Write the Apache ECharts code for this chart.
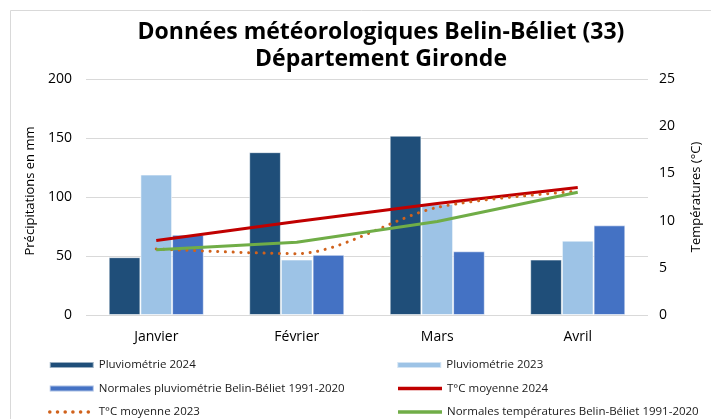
<!DOCTYPE html>
<html><head><meta charset="utf-8">
<script src="https://cdn.jsdelivr.net/npm/echarts@6/dist/echarts.min.js"></script>
<style>html,body{margin:0;padding:0;background:#fff}#c{width:711px;height:419px}</style>
</head><body><div id="c"></div>
<script>
const categories = ['Janvier', 'Février', 'Mars', 'Avril'];
const pluvio2024 = [49, 138, 152, 47];
const pluvio2023 = [119, 47, 94, 63];
const pluvioNormales = [68, 51, 54, 76];
const temp2024 = [7.9, 9.9, 11.8, 13.5];
const temp2023 = [7.0, 6.5, 11.4, 13.1];
const tempNormales = [6.9, 7.7, 9.9, 13.0];
const leftTicks = [0, 200, 50];
const rightTicks = [0, 25, 5];

const FONT = '"Open Sans", sans-serif';
const chart = echarts.init(document.getElementById('c'));
const barStyle = c => ({ color: c, borderColor: 'rgba(255,255,255,0.55)', borderWidth: 1 });
const lineIcon = { itemStyle: { opacity: 0 }, lineStyle: { width: 3.5 } };
chart.setOption({
  animation: false,
  backgroundColor: '#fff',
  title: {
    text: 'Données météorologiques Belin-Béliet (33)\nDépartement Gironde',
    left: 376, textAlign: 'center', top: 14,
    textStyle: { fontFamily: FONT, fontSize: 23, fontWeight: 'bold', color: '#000', lineHeight: 27 }
  },
  graphic: [{ type: 'rect', shape: { x: 10.5, y: 10.5, width: 760, height: 460 }, style: { fill: 'none', stroke: '#d9d9d9', lineWidth: 1 }, z: -1 }],
  grid: { left: 86, right: 55, top: 79, bottom: 104 },
  legend: {
    left: 43, top: 353, width: 711, orient: 'horizontal',
    itemWidth: 44, itemHeight: 6, itemGap: 9.5,
    textStyle: { fontFamily: FONT, fontSize: 11.5, color: '#1a1a1a', width: 288, lineHeight: 14 },
    data: [
      { name: 'Pluviométrie 2024', icon: 'rect' },
      { name: 'Pluviométrie 2023', icon: 'rect' },
      { name: 'Normales pluviométrie Belin-Béliet 1991-2020', icon: 'rect' },
      Object.assign({ name: 'T°C moyenne 2024' }, lineIcon),
      Object.assign({ name: 'T°C moyenne 2023' }, lineIcon),
      Object.assign({ name: 'Normales températures Belin-Béliet 1991-2020' }, lineIcon)]
  },
  xAxis: {
    type: 'category', data: categories,
    axisLine: { show: false }, axisTick: { show: false },
    axisLabel: { fontFamily: FONT, fontSize: 14, color: '#000', margin: 15 }
  },
  yAxis: [{
    type: 'value', min: leftTicks[0], max: leftTicks[1], interval: leftTicks[2],
    name: 'Précipitations en mm', nameLocation: 'middle', nameGap: 48, nameRotate: 90,
    nameTextStyle: { fontFamily: FONT, fontSize: 13, color: '#000', padding: [0, 0, 0, 12] },
    axisLabel: { fontFamily: FONT, fontSize: 14, color: '#000', margin: 14 },
    splitLine: { lineStyle: { color: '#d9d9d9', width: 1 } }
  }, {
    type: 'value', min: rightTicks[0], max: rightTicks[1], interval: rightTicks[2],
    name: 'Températures (°C)', nameLocation: 'middle', nameGap: 42, nameRotate: 90,
    nameTextStyle: { fontFamily: FONT, fontSize: 13, color: '#000' },
    axisLabel: { fontFamily: FONT, fontSize: 14, color: '#000', margin: 11 },
    splitLine: { show: false }
  }],
  series: [
    { name: 'Pluviométrie 2024', type: 'bar', data: pluvio2024, barWidth: 31.7, barGap: '0%', itemStyle: barStyle('#1F4E79') },
    { name: 'Pluviométrie 2023', type: 'bar', data: pluvio2023, barWidth: 31.7, barGap: '0%', itemStyle: barStyle('#9DC3E6') },
    { name: 'Normales pluviométrie Belin-Béliet 1991-2020', type: 'bar', data: pluvioNormales, barWidth: 31.7, barGap: '0%', itemStyle: barStyle('#4472C4') },
    { name: 'T°C moyenne 2024', type: 'line', yAxisIndex: 1, data: temp2024, symbol: 'none',
      lineStyle: { color: '#C00000', width: 3 }, itemStyle: { color: '#C00000' } },
    { name: 'T°C moyenne 2023', type: 'line', yAxisIndex: 1, data: temp2023, symbol: 'none', smooth: 0.3,
      lineStyle: { color: '#D0621C', width: 3, type: [0.1, 7.6], cap: 'round' }, itemStyle: { color: '#D0621C' } },
    { name: 'Normales températures Belin-Béliet 1991-2020', type: 'line', yAxisIndex: 1, data: tempNormales, symbol: 'none',
      lineStyle: { color: '#70AD47', width: 3 }, itemStyle: { color: '#70AD47' } }
  ]
});
</script></body></html>
